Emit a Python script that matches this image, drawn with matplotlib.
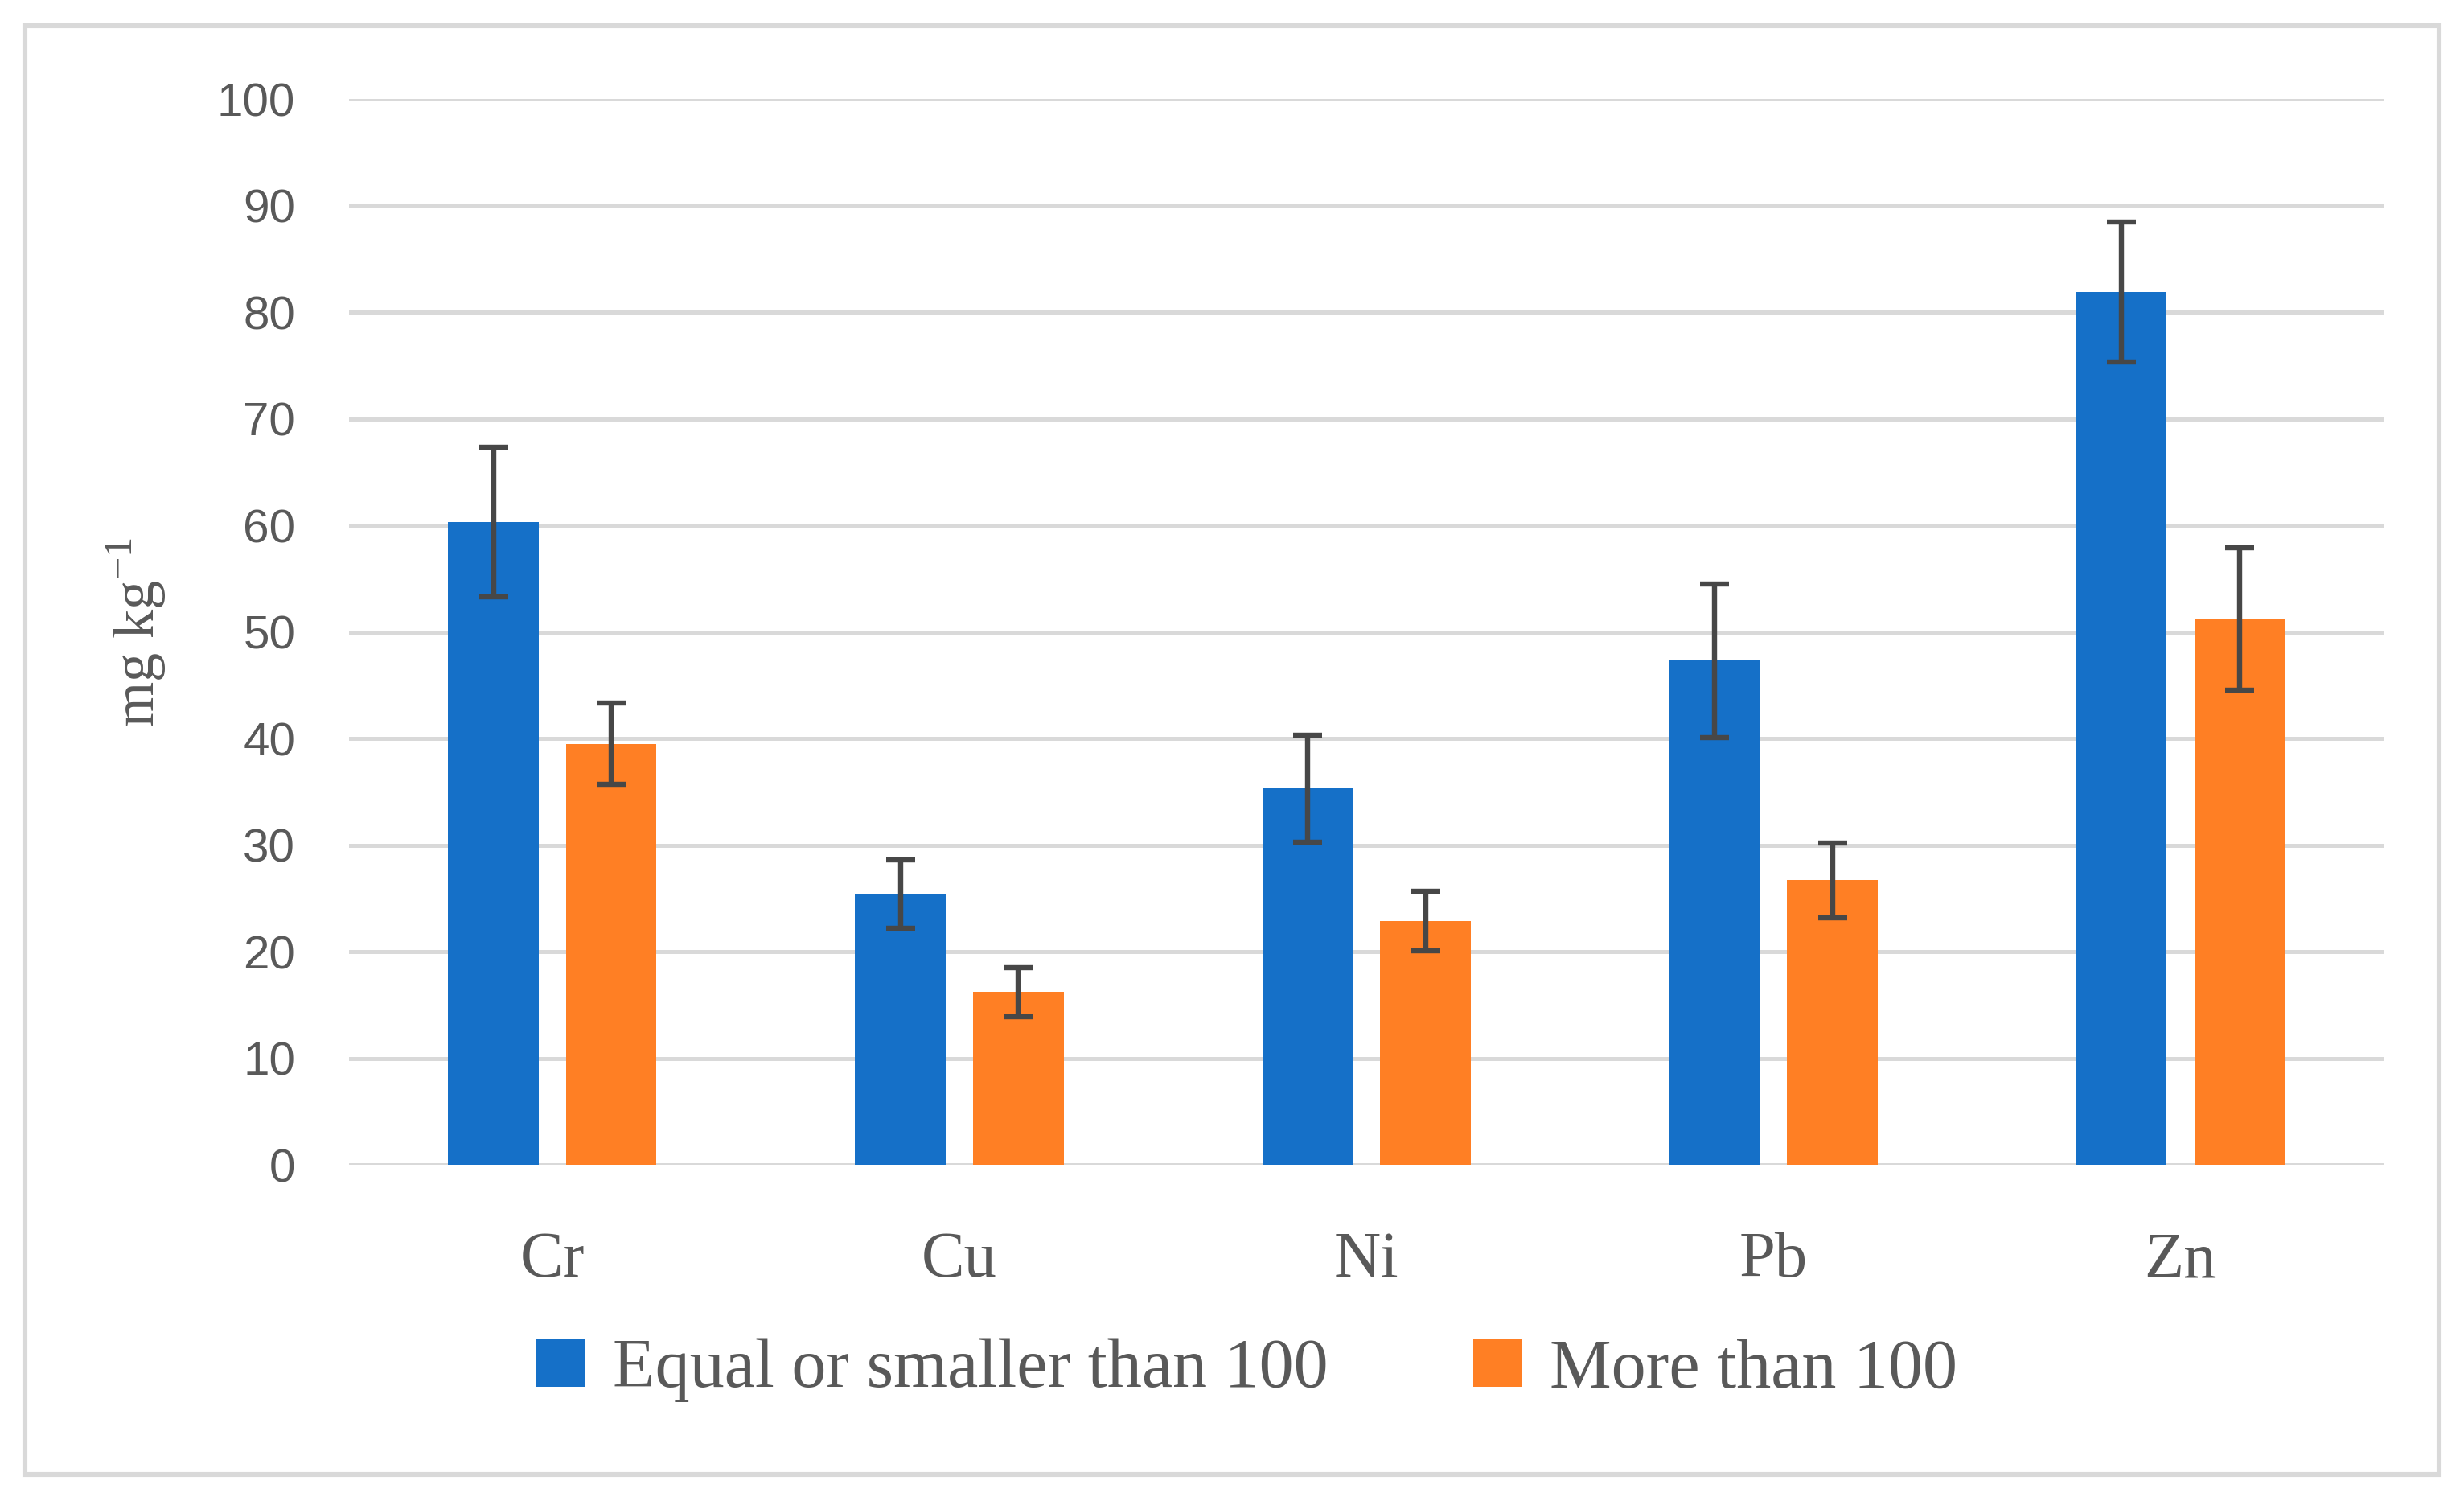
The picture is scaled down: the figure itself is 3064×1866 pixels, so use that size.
import matplotlib.pyplot as plt
import numpy as np
from matplotlib.patches import Rectangle

# Data
elements = ['Cr', 'Cu', 'Ni', 'Pb', 'Zn']
low_vals = [60.3, 25.4, 35.3, 47.3, 81.9]
low_err = [7.0, 3.2, 5.0, 7.2, 6.6]
high_vals = [39.5, 16.2, 22.9, 26.7, 51.2]
high_err = [3.8, 2.3, 2.8, 3.5, 6.7]
series_names = ['Equal or smaller than 100', 'More than 100']
y_ticks = list(range(0, 101, 10))

blue = '#1570c8'
orange = '#ff7f24'
text_col = '#595959'
grid_col = '#d9d9d9'
err_col = '#474747'

serif = ['Liberation Serif', 'DejaVu Serif']
narrow = ['Liberation Sans Narrow', 'Liberation Sans', 'DejaVu Sans']

fig = plt.figure(figsize=(15.32, 9.33), dpi=200)
ax = fig.add_axes([0.1416, 0.224, 0.8259, 0.710])

x = np.arange(len(elements))
w = 0.222
off = 0.145
err_kw = dict(ecolor=err_col, elinewidth=2.3, capsize=6.5, capthick=2.3)
ax.bar(x - off, low_vals, w, yerr=low_err, color=blue, label=series_names[0],
       error_kw=err_kw, zorder=3)
ax.bar(x + off, high_vals, w, yerr=high_err, color=orange, label=series_names[1],
       error_kw=err_kw, zorder=3)

ax.set_xlim(-0.5, len(elements) - 0.5)
ax.set_ylim(0, 100)
ax.set_yticks(y_ticks)
ax.set_xticks(x)
ax.set_xticklabels(elements, family=serif, fontsize=29, color=text_col)
for lab in ax.get_yticklabels():
    lab.set_family(narrow)
    lab.set_fontsize(21)
    lab.set_color(text_col)
ax.tick_params(axis='y', length=0, pad=24)
ax.tick_params(axis='x', length=0, pad=30)
ax.grid(axis='y', color=grid_col, linewidth=1.8, zorder=0)
for s in ax.spines.values():
    s.set_visible(False)
ax.set_axisbelow(True)

ax.set_ylabel(r'mg kg$^{\mathregular{-1}}$', family=serif, fontsize=26,
              color=text_col, labelpad=22)

leg = fig.legend(loc='center', bbox_to_anchor=(0.506, 0.087), ncol=2,
                 frameon=False, handlelength=0.7, handleheight=0.7,
                 handletextpad=0.4, columnspacing=2.1,
                 prop={'family': serif, 'size': 31})
for t in leg.get_texts():
    t.set_color(text_col)

# outer chart border
fig.patches.append(Rectangle((0.0102, 0.0178), 0.9796, 0.9652, transform=fig.transFigure,
                             fill=False, edgecolor=grid_col, linewidth=2.2))

fig.savefig('out.png', dpi=200, facecolor='white')
